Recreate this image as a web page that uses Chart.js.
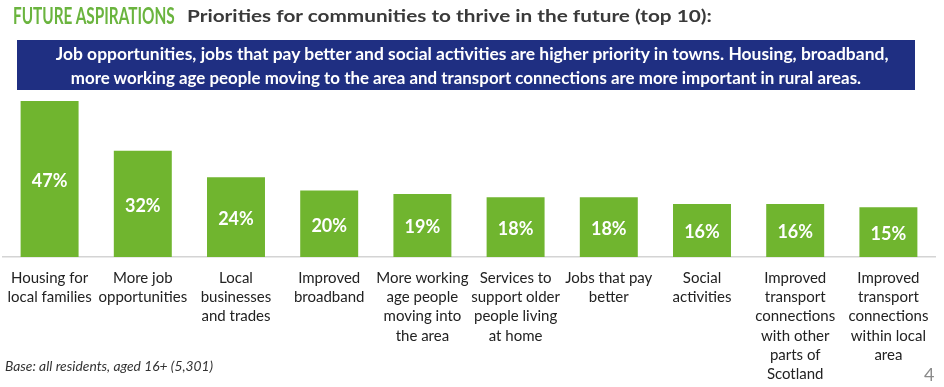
<!DOCTYPE html>
<html>
<head>
<meta charset="utf-8">
<script src="https://cdn.jsdelivr.net/npm/chart.js@4.4.1/dist/chart.umd.min.js"></script>
<style>
  html, body { margin: 0; padding: 0; background: #fff; }
  body { width: 944px; height: 387px; position: relative; overflow: hidden; font-family: Lato, "Open Sans", sans-serif; }
  #wrap { position: absolute; left: 0; top: 0; width: 944px; height: 387px; }
  .txt { position: absolute; white-space: nowrap; transform-origin: left center; }
  #head1 { left: 13px; top: 2px; font-size: 22px; font-weight: bold; color: #6ab43e; }
  #head2 { left: 187px; top: 5px; font-size: 17px; font-weight: bold; color: #3a3a3a; }
  #banner { position: absolute; left: 17px; top: 40px; width: 898px; height: 50px; background: #1f2f82; color: #fff;
            font-weight: bold; font-size: 16.5px; line-height: 24px; text-align: center; padding-top: 2px; box-sizing: border-box; }
  #banner div { white-space: nowrap; }
  #base { left: 5px; top: 359px; font-size: 12.5px; font-style: italic; color: #333; }
  #page { left: 924px; top: 363px; font-size: 18px; color: #8a8a8a; }
</style>
</head>
<body>
<div id="wrap"><canvas id="chart"></canvas></div>
<div class="txt" id="head1">FUTURE ASPIRATIONS</div>
<div class="txt" id="head2">Priorities for communities to thrive in the future (top 10):</div>
<div id="banner">
  <div>&nbsp;&nbsp;&nbsp;Job opportunities, jobs that pay better and social activities are higher priority in towns. Housing, broadband,</div>
  <div>more working age people moving to the area and transport connections are more important in rural areas.</div>
</div>
<div class="txt" id="base">Base: all residents, aged 16+ (5,301)</div>
<div class="txt" id="page">4</div>
<script>
// categories (multi-line labels as shown under each bar)
const categories = [
  ["Housing for", "local families"],
  ["More job", "opportunities"],
  ["Local", "businesses", "and trades"],
  ["Improved", "broadband"],
  ["More working", "age people", "moving into", "the area"],
  ["Services to", "support older", "people living", "at home"],
  ["Jobs that pay", "better"],
  ["Social", "activities"],
  ["Improved", "transport", "connections", "with other", "parts of", "Scotland"],
  ["Improved", "transport", "connections", "within local", "area"]
]
// percent of residents
const values = [47, 32, 24, 20, 19, 18, 18, 16, 16, 15]

const valueLabels = {
  id: "valueLabels",
  afterDatasetsDraw(chart) {
    const ctx = chart.ctx
    const meta = chart.getDatasetMeta(0)
    ctx.save()
    ctx.fillStyle = "#ffffff"
    ctx.font = "bold 18px Lato"
    ctx.textAlign = "center"
    ctx.textBaseline = "middle"
    meta.data.forEach((bar, i) => {
      ctx.fillText(values[i] + "%", bar.x, (bar.y + bar.base) / 2 + 2)
    })
    ctx.restore()
  }
}

window.onload = () => {
  // squeeze heading texts to the widths seen in the picture
  const fit = (id, w) => {
    const el = document.getElementById(id)
    el.style.transform = "scaleX(" + (w / el.offsetWidth) + ")"
  }
  fit("head1", 162)
  fit("head2", 525)
  fit("base", 208)
  document.querySelectorAll("#banner div").forEach((d, i) => {
    d.style.display = "inline-block"
    const w = d.offsetWidth
    const target = i == 0 ? 845 : 790
    d.style.transform = "scaleX(" + (target / w) + ")"
    d.style.display = "block"
  })

  new Chart(document.getElementById("chart"), {
    type: "bar",
    data: {
      labels: categories,
      datasets: [{
        data: values,
        backgroundColor: "#70b52f",
        barPercentage: 0.622,
        categoryPercentage: 1
      }]
    },
    options: {
      responsive: true,
      maintainAspectRatio: false,
      animation: false,
      layout: { padding: { top: 101, left: 3, right: 9, bottom: 0 } },
      plugins: { legend: { display: false }, tooltip: { enabled: false } },
      scales: {
        y: { display: false, min: 0, max: 47 },
        x: {
          grid: { display: false, drawTicks: false },
          border: { display: true, color: "#d4d4d4", width: 1.5 },
          ticks: {
            color: "#222222",
            font: { family: "Lato", size: 15, lineHeight: 1.29 },
            padding: 11,
            autoSkip: false,
            maxRotation: 0
          },
          afterFit(scale) {
            scale.height = 130
            // labels fit inside their slots, no extra side padding
            scale.paddingLeft = 0
            scale.paddingRight = 0
          }
        }
      }
    },
    plugins: [valueLabels]
  })
}
</script>
</body>
</html>
